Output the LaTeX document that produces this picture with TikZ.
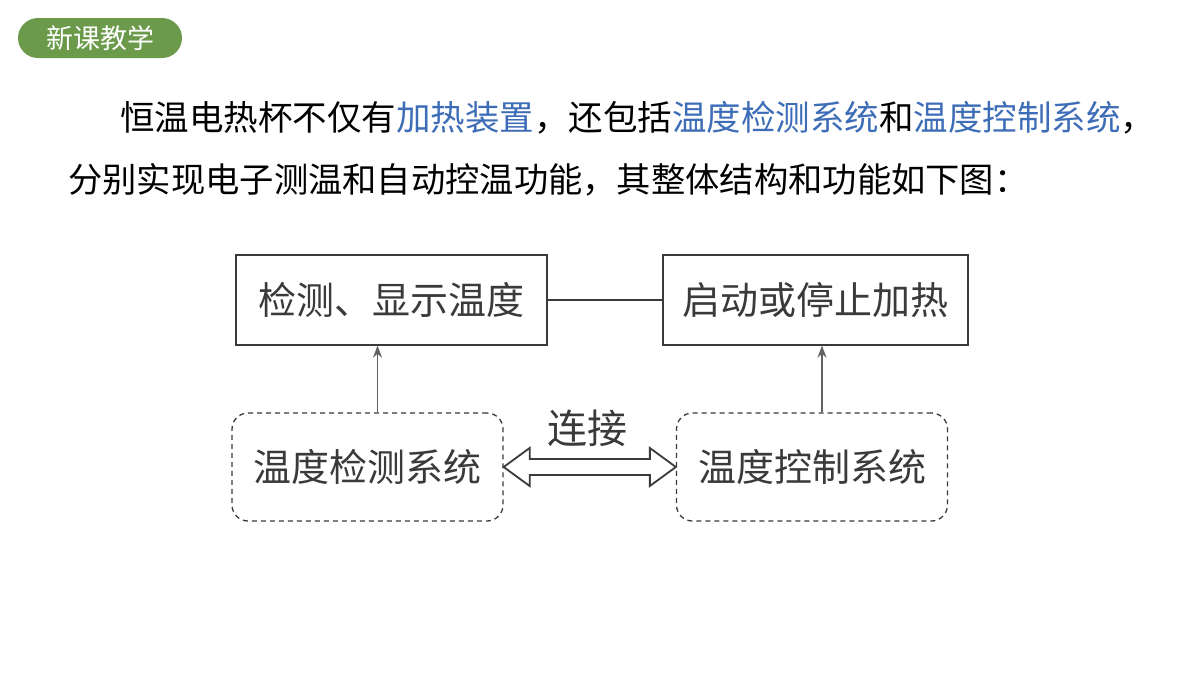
\documentclass[tikz,border=0pt]{standalone}
\usepackage{fontspec}
\usetikzlibrary{arrows.meta,calc}
\setmainfont{Noto Sans CJK SC}
\newfontfamily\cjk{Noto Sans CJK SC}
\definecolor{tabgreen}{HTML}{6A9A4A}
\definecolor{hblue}{HTML}{3E6DB8}
\definecolor{dgray}{HTML}{3A3A3A}
\begin{document}
\begin{tikzpicture}[x=1pt,y=-1pt,
  solidbox/.style={draw=dgray,line width=1.3pt,minimum width=#1,minimum height=90pt,inner sep=0pt,font=\cjk\fontsize{38}{38}\selectfont,text=dgray},
  dashbox/.style={draw=dgray,line width=1.3pt,dashed,dash pattern=on 5pt off 4pt,rounded corners=16pt,minimum width=271pt,minimum height=108pt,inner sep=0pt,font=\cjk\fontsize{38}{38}\selectfont,text=dgray},
  uparrow/.style={draw=dgray!80,line width=1.6pt,-{Stealth[length=12pt,width=9pt]}}]
\useasboundingbox (0,0) rectangle (1200,675);
\fill[white] (0,0) rectangle (1200,675);
\node[fill=tabgreen,rounded corners=20pt,minimum width=164pt,minimum height=40pt,inner sep=0pt,text=white,font=\cjk\fontsize{27}{27}\selectfont] (tab) at (100,38) {新课教学};
\node[anchor=west,inner sep=0pt,font=\cjk\fontsize{34.5}{34.5}\selectfont,text=black] (l1) at (120,118) {恒温电热杯不仅有\textcolor{hblue}{加热装置}，还包括\textcolor{hblue}{温度检测系统}和\textcolor{hblue}{温度控制系统}，};
\node[anchor=west,inner sep=0pt,font=\cjk\fontsize{34.3}{34.3}\selectfont,text=black] (l2) at (68,180) {分别实现电子测温和自动控温功能，其整体结构和功能如下图：};
\node[solidbox=311pt] (b1) at (391.5,300) {检测、显示温度};
\node[solidbox=305pt] (b2) at (815.5,300) {启动或停止加热};
\draw[dgray,line width=1.3pt] (b1.east) -- (b2.west);
\node[dashbox] (d1) at (367.5,467) {温度检测系统};
\node[dashbox] (d2) at (812,467) {温度控制系统};
\coordinate (a1) at ($(d1.north)+(10,0)$);
\coordinate (a2) at ($(d2.north)+(10,0)$);
\draw[uparrow] (a1) -- (a1 |- b1.south);
\draw[uparrow] (a2) -- (a2 |- b2.south);
\coordinate (L) at (d1.east);
\coordinate (R) at (d2.west);
\draw[dgray,line width=1.8pt,line join=miter,fill=white]
  (L) -- ++(26,-19) -- ++(0,11) -- ($(R)+(-26,-8)$) -- ++(0,-11) -- (R) -- ++(-26,19) -- ++(0,-11) -- ($(L)+(26,8)$) -- ++(0,11) -- cycle;
\node[font=\cjk\fontsize{40}{40}\selectfont,text=dgray] (lab) at (587,428) {连接};
\end{tikzpicture}
\end{document}
